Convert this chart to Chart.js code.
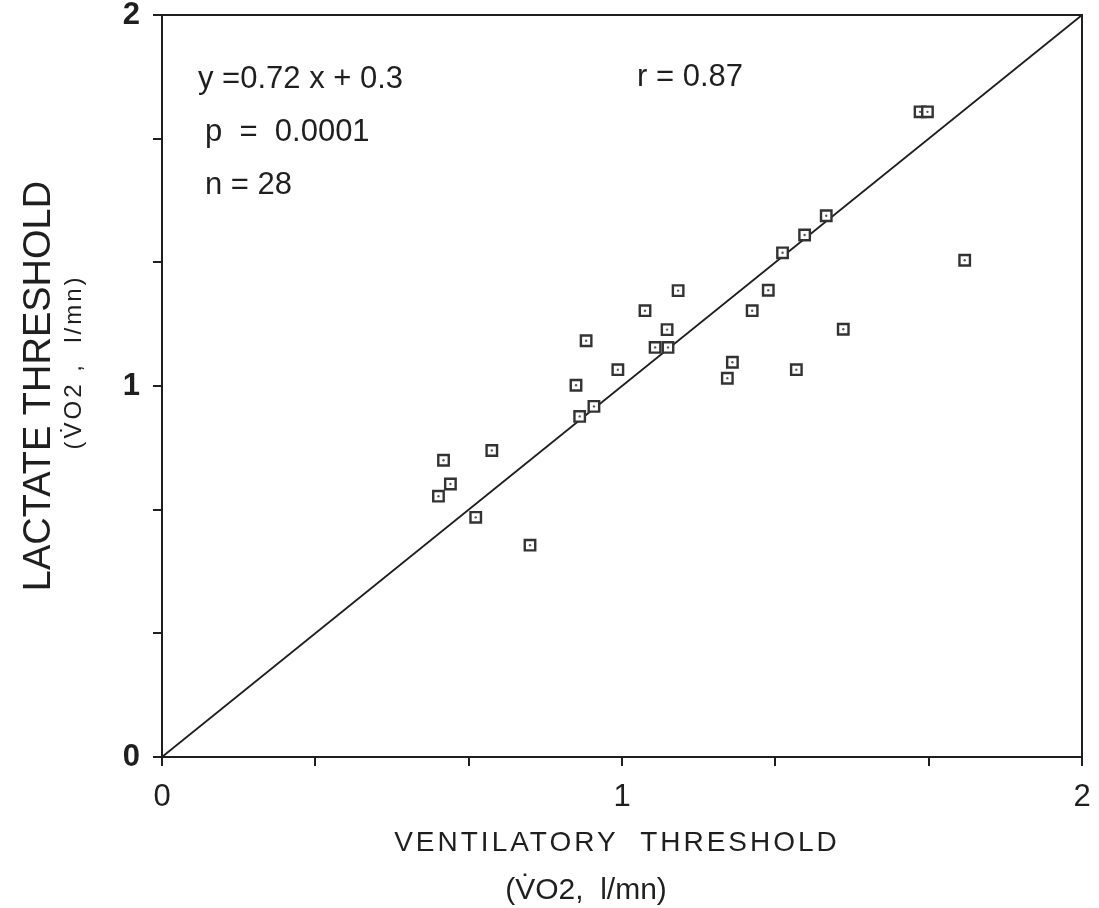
<!DOCTYPE html>
<html>
<head>
<meta charset="utf-8">
<script src="https://cdn.jsdelivr.net/npm/chart.js@4"></script>
<style>
html,body{margin:0;padding:0;background:#fff;}
#wrap{width:1099px;height:908px;position:relative;}
</style>
</head>
<body>
<div id="wrap"><canvas id="c" width="1099" height="908"></canvas></div>
<script>
// Data
const ventilatory = [0.601,0.612,0.627,0.682,0.717,0.800,0.900,0.908,0.922,0.939,0.991,1.050,1.072,1.098,1.100,1.122,1.229,1.240,1.283,1.318,1.349,1.379,1.397,1.444,1.481,1.648,1.664,1.745];
const lactate     = [0.703,0.800,0.736,0.646,0.826,0.571,1.002,0.918,1.122,0.945,1.044,1.203,1.104,1.152,1.104,1.257,1.021,1.064,1.203,1.258,1.359,1.044,1.407,1.459,1.153,1.739,1.739,1.339];
const identityX = [0, 2];
const identityY = [0, 2];
const tickValues = [0, 1/3, 2/3, 1, 4/3, 5/3, 2];
const tickLabels = ['0', '', '', '1', '', '', '2'];
const statsText = ['y =0.72 x + 0.3', 'r = 0.87', 'p  =  0.0001', 'n = 28'];
const xTitle = ['VENTILATORY  THRESHOLD', '(V\u0307O2,  l/mn)'];
const yTitle = ['LACTATE THRESHOLD', '(V\u0307O2 ,  l/mn)'];

const pts = ventilatory.map((v, i) => ({x: v, y: lactate[i]}));
const line = identityX.map((v, i) => ({x: v, y: identityY[i]}));
const INK = '#1f1f1f';
const FONT = '"Liberation Sans", Arial, Helvetica, sans-serif';

const annot = {
  id: 'annot',
  beforeDraw(chart) {
    const ctx = chart.ctx;
    ctx.save();
    ctx.fillStyle = '#fff';
    ctx.fillRect(0, 0, chart.width, chart.height);
    ctx.restore();
  },
  afterDraw(chart) {
    const ctx = chart.ctx, a = chart.chartArea;
    ctx.save();
    // frame
    ctx.strokeStyle = INK;
    ctx.lineWidth = 2;
    ctx.strokeRect(a.left, a.top, a.right - a.left, a.bottom - a.top);
    ctx.fillStyle = INK;
    ctx.textBaseline = 'alphabetic';
    // stats
    ctx.font = '31px ' + FONT;
    ctx.textAlign = 'left';
    ctx.fillText(statsText[0], 198, 88);
    ctx.fillText(statsText[1], 637, 86);
    ctx.fillText(statsText[2], 205, 141);
    ctx.fillText(statsText[3], 205, 194);
    // x title
    ctx.textAlign = 'center';
    ctx.font = '28px ' + FONT;
    ctx.letterSpacing = '3px';
    ctx.fillText(xTitle[0], 617, 851);
    ctx.letterSpacing = '0px';
    ctx.font = '30px ' + FONT;
    ctx.fillText(xTitle[1], 586, 899);
    // y title
    ctx.save();
    ctx.translate(50, 386);
    ctx.rotate(-Math.PI / 2);
    ctx.font = '38px ' + FONT;
    ctx.fillText(yTitle[0], 0, 0);
    ctx.restore();
    ctx.save();
    ctx.translate(81, 362);
    ctx.rotate(-Math.PI / 2);
    ctx.font = '24px ' + FONT;
    ctx.letterSpacing = '3px';
    ctx.fillText(yTitle[1], 0, 0);
    ctx.restore();
    ctx.restore();
  }
};

new Chart(document.getElementById('c'), {
  type: 'scatter',
  data: {
    datasets: [
      {
        type: 'line',
        data: line,
        borderColor: INK,
        borderWidth: 1.8,
        pointRadius: 0,
        fill: false,
        order: 3
      },
      {
        data: pts,
        pointStyle: 'rect',
        pointRadius: 7.4,
        pointBorderWidth: 2.4,
        pointBorderColor: '#333',
        pointBackgroundColor: '#fff',
        order: 2
      },
      {
        data: pts,
        pointStyle: 'circle',
        pointRadius: 1.2,
        pointBorderWidth: 0,
        pointBackgroundColor: '#555',
        order: 1
      }
    ]
  },
  options: {
    responsive: false,
    animation: false,
    events: [],
    layout: {padding: {left: 0, right: 17, top: 15, bottom: 0}},
    plugins: {legend: {display: false}, tooltip: {enabled: false}},
    scales: {
      x: {
        type: 'linear', min: 0, max: 2,
        afterBuildTicks: s => { s.ticks = tickValues.map(v => ({value: v})); },
        afterFit: s => { s.height = 151; s.paddingLeft = 0; s.paddingRight = 0; },
        ticks: {
          callback: (v, i) => tickLabels[i],
          font: {family: FONT, size: 31},
          color: INK,
          padding: 13,
          maxRotation: 0,
          autoSkip: false
        },
        grid: {drawOnChartArea: false, drawTicks: true, tickLength: 9, color: INK, lineWidth: 2},
        border: {display: true, color: INK, width: 2}
      },
      y: {
        type: 'linear', min: 0, max: 2,
        afterBuildTicks: s => { s.ticks = tickValues.map(v => ({value: v})); },
        afterFit: s => { s.width = 162; s.paddingTop = 0; s.paddingBottom = 0; },
        ticks: {
          callback: (v, i) => tickLabels[i],
          font: {family: FONT, size: 31, weight: 'bold'},
          color: INK,
          padding: 13,
          autoSkip: false
        },
        grid: {drawOnChartArea: false, drawTicks: true, tickLength: 9, color: INK, lineWidth: 2},
        border: {display: true, color: INK, width: 2}
      }
    }
  },
  plugins: [annot]
});
</script>
</body>
</html>
